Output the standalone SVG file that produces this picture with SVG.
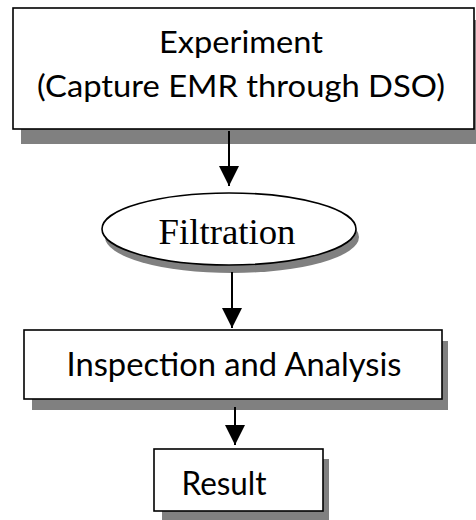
<svg xmlns="http://www.w3.org/2000/svg" width="476" height="520" viewBox="0 0 476 520">
<defs>
<style>
.box{fill:#fff;stroke:#000;stroke-width:1.6}
.shadow{fill:#808080}
.sans{font-family:Lato,"Open Sans","Liberation Sans",sans-serif;fill:#000}
.serif{font-family:"Liberation Serif","DejaVu Serif",serif;fill:#000}
.conn{stroke:#000;stroke-width:2;fill:none}
</style>
<marker id="ah" markerUnits="userSpaceOnUse" markerWidth="20" markerHeight="22" refX="20" refY="10" orient="auto">
<path d="M0,0 L20,10 L0,20 Z" fill="#000"/>
</marker>
</defs>
<rect width="476" height="520" fill="#fff"/>
<g id="experiment">
<rect class="shadow" x="21" y="20" width="462" height="124"/>
<rect class="box" x="13" y="8" width="461" height="121"/>
<text class="sans" x="241" y="53" font-size="31" text-anchor="middle" textLength="164" lengthAdjust="spacingAndGlyphs">Experiment</text>
<text class="sans" x="241" y="97" font-size="31" text-anchor="middle" textLength="408" lengthAdjust="spacingAndGlyphs">(Capture EMR through DSO)</text>
</g>
<g id="filtration">
<ellipse class="shadow" cx="232" cy="237" rx="127" ry="36"/>
<ellipse class="box" cx="229" cy="229" rx="127" ry="36"/>
<text class="serif" x="227" y="244" font-size="36" text-anchor="middle" textLength="137" lengthAdjust="spacingAndGlyphs">Filtration</text>
</g>
<g id="inspection">
<rect class="shadow" x="32" y="341" width="416" height="69"/>
<rect class="box" x="24" y="330" width="418" height="69"/>
<text class="sans" x="234" y="376" font-size="32" text-anchor="middle" textLength="335" lengthAdjust="spacingAndGlyphs">Inspection and Analysis</text>
</g>
<g id="result">
<rect class="shadow" x="162" y="459" width="167" height="70"/>
<rect class="box" x="154" y="449" width="169" height="62"/>
<text class="sans" x="224" y="495" font-size="32" text-anchor="middle" textLength="85" lengthAdjust="spacingAndGlyphs">Result</text>
</g>
<g id="connectors">
<line class="conn" x1="229" y1="131" x2="229" y2="186" marker-end="url(#ah)"/>
<line class="conn" x1="232" y1="272" x2="232" y2="328" marker-end="url(#ah)"/>
<line class="conn" x1="235" y1="407" x2="235" y2="445" marker-end="url(#ah)"/>
</g>
</svg>
